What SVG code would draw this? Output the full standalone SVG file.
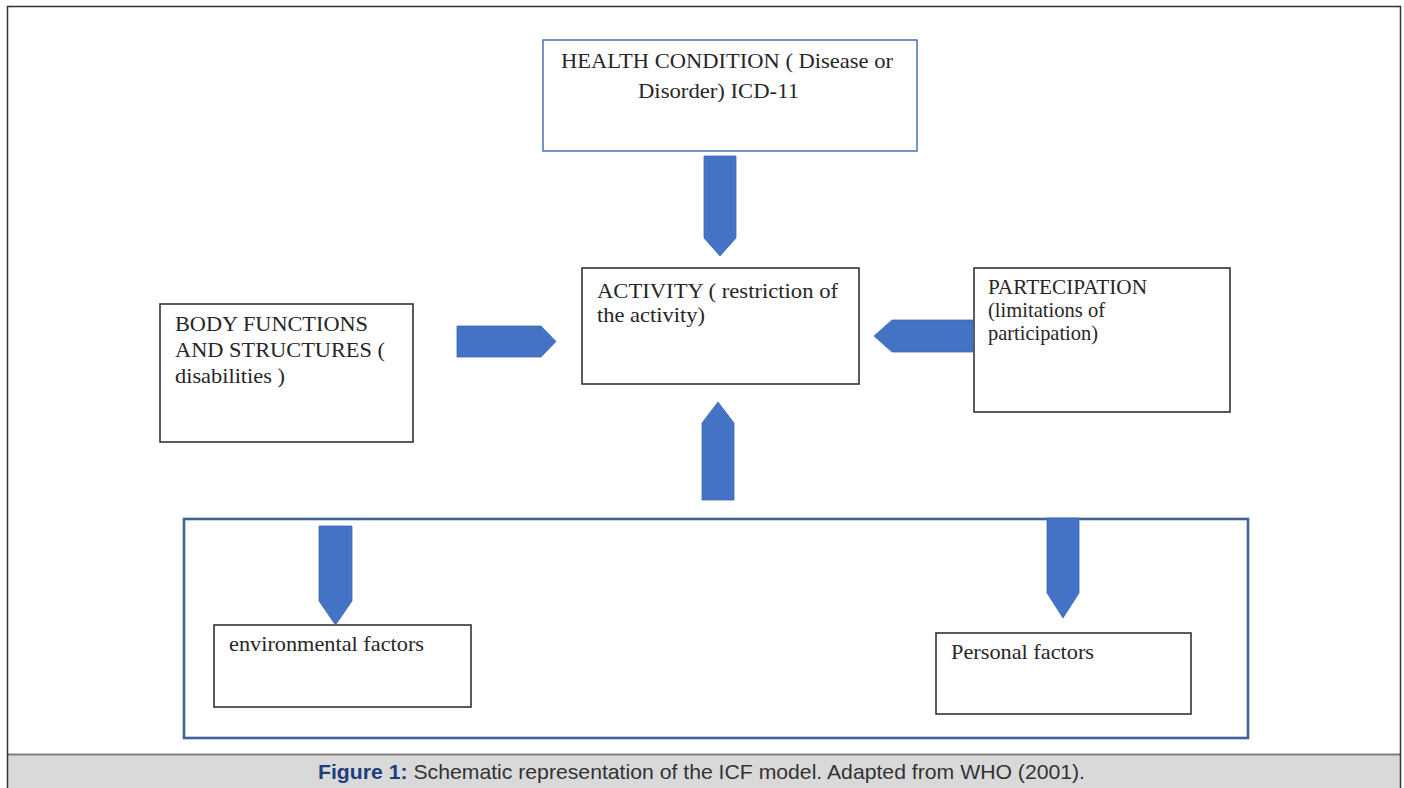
<svg xmlns="http://www.w3.org/2000/svg" width="1404" height="788" viewBox="0 0 1404 788">
<style>
.box{fill:#fff;stroke:#333;stroke-width:1.6}
.hbox{fill:#fff;stroke:#4a72b8;stroke-width:1.5}
.frame{fill:none;stroke:#3e6499;stroke-width:2.6}
.arr{fill:#4472c4;stroke:#3f68b5;stroke-width:0.8}
.t{font-family:"Liberation Serif","Times New Roman",serif;font-size:21px;fill:#262626}
.cap{font-family:"Liberation Sans",Arial,sans-serif;font-size:21px;fill:#333}
.capb{font-weight:bold;fill:#1f3d7a}
</style>
<rect x="0" y="0" width="1404" height="788" fill="#fff"/>
<rect x="7" y="755" width="1393" height="33" fill="#d9d9d9"/>
<line x1="7" y1="754.5" x2="1400" y2="754.5" stroke="#7f7f7f" stroke-width="2"/>
<path d="M7.5,788 V6.5 H1400.5 V788" fill="none" stroke="#333" stroke-width="1.5"/>

<g id="frame-bottom"><rect class="frame" x="184" y="519" width="1064" height="219"/></g>

<g id="health"><rect class="hbox" x="543" y="40" width="374" height="111"/>
<text class="t" x="561" y="68" textLength="332" lengthAdjust="spacingAndGlyphs">HEALTH CONDITION ( Disease or</text>
<text class="t" x="638" y="98" textLength="161" lengthAdjust="spacingAndGlyphs">Disorder) ICD-11</text></g>

<g id="body"><rect class="box" x="160" y="304" width="253" height="138"/>
<text class="t" x="175" y="331" textLength="193" lengthAdjust="spacingAndGlyphs">BODY FUNCTIONS</text>
<text class="t" x="175" y="357" textLength="210" lengthAdjust="spacingAndGlyphs">AND STRUCTURES (</text>
<text class="t" x="175" y="383" textLength="110" lengthAdjust="spacingAndGlyphs">disabilities )</text></g>

<g id="activity"><rect class="box" x="582" y="268" width="277" height="116"/>
<text class="t" x="597" y="298" textLength="241" lengthAdjust="spacingAndGlyphs">ACTIVITY ( restriction of</text>
<text class="t" x="597" y="322" textLength="108" lengthAdjust="spacingAndGlyphs">the activity)</text></g>

<g id="participation"><rect class="box" x="974" y="268" width="256" height="144"/>
<text class="t" x="988" y="294" textLength="159" lengthAdjust="spacingAndGlyphs">PARTECIPATION</text>
<text class="t" x="988" y="317" textLength="117" lengthAdjust="spacingAndGlyphs">(limitations of</text>
<text class="t" x="988" y="340" textLength="110" lengthAdjust="spacingAndGlyphs">participation)</text></g>

<g id="environmental"><rect class="box" x="214" y="625" width="257" height="82"/>
<text class="t" x="229" y="651" textLength="195" lengthAdjust="spacingAndGlyphs">environmental factors</text></g>

<g id="personal"><rect class="box" x="936" y="633" width="255" height="81"/>
<text class="t" x="951" y="659" textLength="143" lengthAdjust="spacingAndGlyphs">Personal factors</text></g>

<g id="connectors">
<polygon class="arr" points="704,156 736,156 736,238 720,256 704,238"/>
<polygon class="arr" points="702,500 734,500 734,423 718,402 702,423"/>
<polygon class="arr" points="457,326 541,326 556,341.5 541,357 457,357"/>
<polygon class="arr" points="973,320 892,320 874,336 892,352 973,352"/>
<polygon class="arr" points="319,526 352,526 352,601 335.5,625 319,601"/>
<polygon class="arr" points="1047,518 1079,518 1079,593 1063,618 1047,593"/>
</g>

<text class="cap" x="318" y="779" textLength="767" lengthAdjust="spacingAndGlyphs"><tspan class="capb">Figure 1:</tspan> Schematic representation of the ICF model. Adapted from WHO (2001).</text>
</svg>
